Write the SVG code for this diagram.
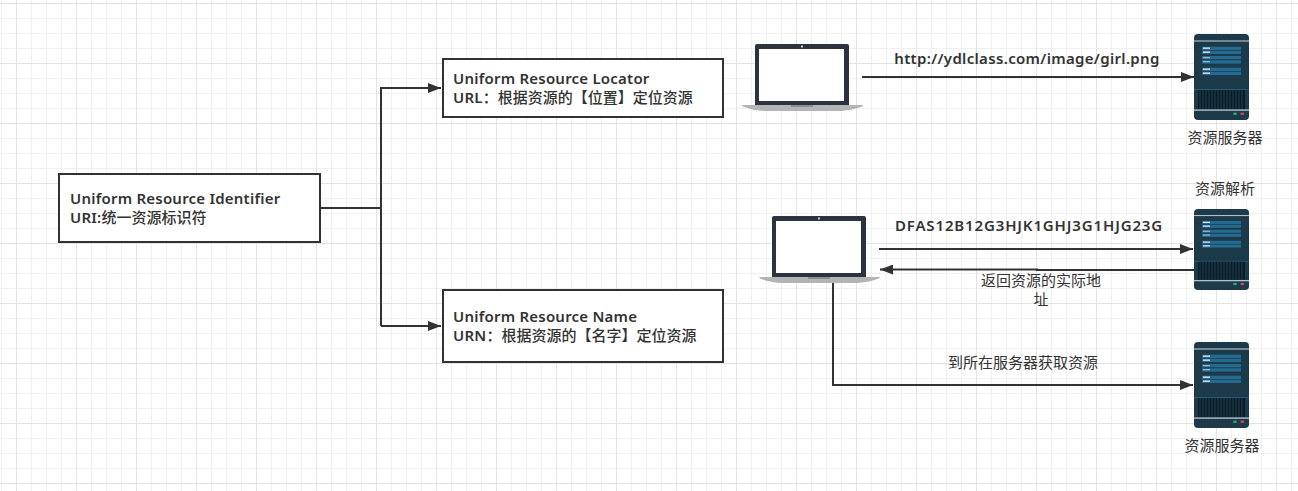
<svg xmlns="http://www.w3.org/2000/svg" width="1298" height="491" viewBox="0 0 1298 491">
<style>
text{font-family:"Noto Sans","Noto Sans CJK SC","Liberation Sans",sans-serif;fill:#333;font-size:15px}
.b{font-weight:600;letter-spacing:.22px}
.c{font-weight:500;letter-spacing:0}
.box{fill:#fff;stroke:#323232;stroke-width:2}
.ln{fill:none;stroke:#323232;stroke-width:2}
</style>
<defs>
<pattern id="minor" width="15" height="15" patternUnits="userSpaceOnUse" x="1" y="3"><path d="M.5 0V15M0 .5H15" fill="none" stroke="#f0f0f0"/></pattern>
<pattern id="major" width="60" height="60" patternUnits="userSpaceOnUse" x="16" y="3"><path d="M.5 0V60M0 .5H60" fill="none" stroke="#e3e3e3"/></pattern>
<marker id="arr" markerUnits="userSpaceOnUse" markerWidth="14" markerHeight="10" refX="13" refY="5" orient="auto"><path d="M0 0L13 5L0 10L0 5Z" fill="#323232"/></marker>
<symbol id="laptop" width="122" height="67" viewBox="0 0 122 67" overflow="visible">
<path d="M14 2Q14 0 16 0H106Q108 0 108 2V61H14Z" fill="#2d3240"/>
<rect x="18" y="5" width="85" height="52" fill="#fff"/>
<rect x="60" y="1.500" width="2" height="2" fill="#c8cad0"/>
<path d="M1 61H122L121 62.500Q112 66 100 67H22Q10 66 2 62.500Z" fill="#b4b4b4"/>
<rect x="50" y="61" width="22" height="2" fill="#8e8e8e"/>
</symbol>
<symbol id="server" width="55" height="86" viewBox="0 0 55 86" preserveAspectRatio="none">
<rect width="55" height="86" rx="4" fill="#1d3a4b"/>
<rect y="6.500" width="55" height="1" fill="#c5d5dd"/>
<g fill="#256a90"><rect x="8" y="12.700" width="39" height="3.300"/><rect x="8" y="16.700" width="39" height="3.300"/><rect x="8" y="22" width="39" height="3.300"/><rect x="8" y="26.300" width="39" height="3.300"/><rect x="8" y="33.700" width="39" height="3.300"/><rect x="8" y="37.700" width="39" height="3.300"/></g>
<g fill="#e4eef3"><rect x="9" y="13.500" width="7" height="1.300"/><rect x="9" y="17.500" width="7" height="1.300"/><rect x="9" y="23" width="7" height="1.300" opacity=".6"/><rect x="9" y="27" width="7" height="1.300" opacity=".6"/><rect x="9" y="34.500" width="7" height="1.300"/><rect x="9" y="38.500" width="7" height="1.300"/></g>
<rect y="55" width="55" height="1" fill="#1f5f7e"/>
<rect x="4" y="56" width="47" height="19" fill="#0b1c29"/>
<path d="M6 56V75M9 56V75M12 56V75M15 56V75M18 56V75M21 56V75M24 56V75M27 56V75M30 56V75M33 56V75M36 56V75M39 56V75M42 56V75M45 56V75M48 56V75" stroke="#23414f" stroke-width="1"/>
<rect y="75.500" width="55" height="1.200" fill="#c5d5dd"/>
<ellipse cx="41" cy="79.700" rx="2" ry="1.300" fill="#2ca870"/>
<ellipse cx="48.300" cy="79.700" rx="2" ry="1.300" fill="#d8405a"/>
</symbol>
</defs>
<rect width="1298" height="491" fill="#fff"/>
<rect width="1298" height="491" fill="url(#minor)"/>
<rect width="1298" height="491" fill="url(#major)"/>
<g id="connectors">
<path class="ln" d="M320 208H381"/>
<path class="ln" d="M381 326V88H441" marker-end="url(#arr)"/>
<path class="ln" d="M381 326H441" marker-end="url(#arr)"/>
<path class="ln" d="M862 77H1194" marker-end="url(#arr)"/>
<path class="ln" d="M879 249H1193" marker-end="url(#arr)"/>
<path class="ln" d="M1194 270H1037V269.500H880" marker-end="url(#arr)"/>
<path class="ln" d="M833 283V385H1193" marker-end="url(#arr)"/>
</g>
<g id="uri"><rect class="box" x="59" y="174" width="261" height="68"/><text class="b" x="70" y="204">Uniform Resource Identifier</text><text class="b" x="70" y="223">URI:<tspan class="c">统一资源标识符</tspan></text></g>
<g id="url"><rect class="box" x="443" y="59" width="280" height="58"/><text class="b" x="453" y="84">Uniform Resource Locator</text><text class="b" x="453" y="103">URL<tspan class="c">：根据资源的【位置】定位资源</tspan></text></g>
<g id="urn"><rect class="box" x="443" y="290" width="280" height="72"/><text class="b" x="453" y="322">Uniform Resource Name</text><text class="b" x="453" y="341">URN<tspan class="c">：根据资源的【名字】定位资源</tspan></text></g>
<g id="laptop1"><use href="#laptop" x="741" y="44"/></g>
<g id="laptop2"><use href="#laptop" x="758" y="216"/></g>
<g id="server1"><use href="#server" x="1194" y="34"/><text x="1225" y="143" text-anchor="middle">资源服务器</text></g>
<g id="server2"><use href="#server" x="1194" y="209" height="81"/><text x="1225" y="194" text-anchor="middle">资源解析</text></g>
<g id="server3"><use href="#server" x="1194" y="342"/><text x="1222" y="451" text-anchor="middle">资源服务器</text></g>
<g id="labels">
<text class="b" x="1027" y="64" text-anchor="middle" style="letter-spacing:.33px">http://ydlclass.com/image/girl.png</text>
<text class="b" x="1029" y="231" text-anchor="middle" style="letter-spacing:.86px">DFAS12B12G3HJK1GHJ3G1HJG23G</text>
<text x="1041" y="286" text-anchor="middle">返回资源的实际地</text>
<text x="1041" y="305" text-anchor="middle">址</text>
<text x="1023" y="368" text-anchor="middle">到所在服务器获取资源</text>
</g>
</svg>
